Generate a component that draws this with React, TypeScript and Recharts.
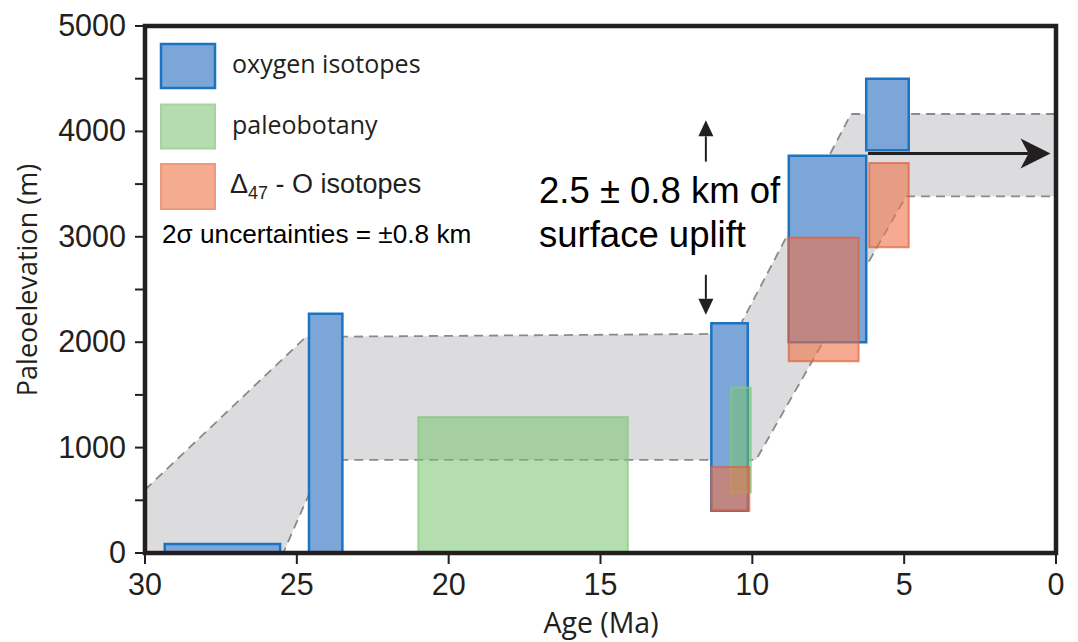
import React from 'react';
import {
  Area,
  ComposedChart,
  ReferenceArea,
  ReferenceLine,
  XAxis,
  YAxis,
} from 'recharts';

type Box = { from: number; to: number; low: number; high: number };

// elevation estimates, age range in Ma and elevation range in m
const oxygenIsotopes: Box[] = [
  { from: 29.35, to: 25.55, low: 0, high: 85 },
  { from: 24.6, to: 23.5, low: 0, high: 2270 },
  { from: 11.35, to: 10.15, low: 400, high: 2180 },
  { from: 8.8, to: 6.25, low: 2000, high: 3770 },
  { from: 6.25, to: 4.85, low: 3820, high: 4500 },
];

const paleobotany: Box[] = [
  { from: 21.0, to: 14.1, low: 0, high: 1290 },
  { from: 10.7, to: 10.05, low: 575, high: 1570 },
];

const clumpedIsotopes: Box[] = [
  { from: 11.35, to: 10.1, low: 400, high: 815 },
  { from: 8.8, to: 6.5, low: 1820, high: 2990 },
  { from: 6.15, to: 4.85, low: 2900, high: 3700 },
];

// envelope of the elevation history
const bandUpper = [
  { age: 30, elev: 600 },
  { age: 24.7, elev: 2050 },
  { age: 10.55, elev: 2080 },
  { age: 6.75, elev: 4165 },
  { age: 0, elev: 4165 },
];

const bandLower = [
  { age: 30, elev: 0 },
  { age: 25.45, elev: 0 },
  { age: 24.1, elev: 883 },
  { age: 9.88, elev: 883 },
  { age: 4.94, elev: 3384 },
  { age: 0, elev: 3384 },
];

const ageTicks = [30, 25, 20, 15, 10, 5, 0];
const elevTicks = [0, 500, 1000, 1500, 2000, 2500, 3000, 3500, 4000, 4500, 5000];
const elevLabels = [0, 1000, 2000, 3000, 4000, 5000];

const plateauArrow = [
  { x: 6.19, y: 3790 },
  { x: 0.18, y: 3790 },
];
const upArrow = [
  { x: 11.53, y: 3713 },
  { x: 11.53, y: 4105 },
];
const downArrow = [
  { x: 11.53, y: 2640 },
  { x: 11.53, y: 2260 },
];

const INK = '#231f20';
const ARIAL = '"Liberation Sans", Arial, sans-serif';
const MYRIAD = '"Open Sans", "Noto Sans", sans-serif';

const BLUE = { fill: '#7ca6d8', stroke: '#1b74c0' };
const GREEN = { fill: '#78c36e', stroke: '#86c97c' };
const RED = { fill: '#ee7148', stroke: '#e0603f' };

function YTick({ x, y, payload }: any) {
  if (!elevLabels.includes(payload.value)) return null;
  return (
    <text x={x} y={y} dy={10} textAnchor="end" fontSize={30.5} fontFamily={ARIAL} fill={INK}>
      {payload.value}
    </text>
  );
}

function XTick({ x, y, payload }: any) {
  return (
    <text x={x} y={y} dy={31} textAnchor="middle" fontSize={30.5} fontFamily={ARIAL} fill={INK}>
      {payload.value}
    </text>
  );
}

function makeArrow(head: number, half: number, notch: number, width: number) {
  return (props: any) => {
    const { x1, y1, x2, y2 } = props;
    const len = Math.hypot(x2 - x1, y2 - y1) || 1;
    const ux = (x2 - x1) / len;
    const uy = (y2 - y1) / len;
    const bx = x2 - ux * head;
    const by = y2 - uy * head;
    const nx = x2 - ux * notch;
    const ny = y2 - uy * notch;
    const pts = [
      [x2, y2],
      [bx - uy * half, by + ux * half],
      [nx, ny],
      [bx + uy * half, by - ux * half],
    ]
      .map((p) => p.join(','))
      .join(' ');
    return (
      <g>
        <line x1={x1} y1={y1} x2={nx} y2={ny} stroke={INK} strokeWidth={width} />
        <polygon points={pts} fill={INK} />
      </g>
    );
  };
}

const bigArrow = makeArrow(30, 15, 22, 3);
const smallArrow = makeArrow(16, 7.5, 16, 2);

function LegendAndNotes() {
  return (
    <svg
      width={1078}
      height={642}
      style={{ position: 'absolute', left: 0, top: 0, pointerEvents: 'none' }}
    >
      <rect x={161} y={44} width={54} height={44} fill="#7ca6d8" stroke="#1b74c0" strokeWidth={2.5} />
      <rect x={161} y={104.5} width={54} height={44} fill="#b5dcb0" stroke="#a6d4a0" strokeWidth={2} />
      <rect x={161} y={164} width={54} height={45} fill="#f5ab8f" stroke="#f09a7c" strokeWidth={2} />
      <text x={232} y={73} fontSize={25} fontFamily={MYRIAD} fill={INK}>
        oxygen isotopes
      </text>
      <text x={232} y={134} fontSize={25} fontFamily={MYRIAD} fill={INK}>
        paleobotany
      </text>
      <text x={230} y={193} fontSize={27} fontFamily={ARIAL} fill={INK}>
        Δ<tspan fontSize={18} dy={6}>47</tspan>
        <tspan dy={-6}> - O isotopes</tspan>
      </text>
      <text x={162} y={243} fontSize={26.2} fontFamily={ARIAL} fill="#000">
        2σ uncertainties = ±0.8 km
      </text>

      <text x={539} y={203} fontSize={36.5} fontFamily={ARIAL} fill="#000">
        2.5 ± 0.8 km of
      </text>
      <text x={539} y={247} fontSize={36.5} fontFamily={ARIAL} fill="#000">
        surface uplift
      </text>

      <text x={601} y={633} textAnchor="middle" fontSize={28.5} fontFamily={MYRIAD} fill={INK}>
        Age (Ma)
      </text>
      <text
        x={37}
        y={280}
        textAnchor="middle"
        fontSize={27}
        fontFamily={MYRIAD}
        fill={INK}
        transform="rotate(-90 37 280)"
      >
        Paleoelevation (m)
      </text>
    </svg>
  );
}

export default function App() {
  return (
    <div style={{ position: 'absolute', left: 0, top: 0, width: 1078, height: 642, background: '#fff' }}>
      <ComposedChart width={1078} height={642} margin={{ top: 26, right: 22, bottom: 49, left: 0 }}>
        <XAxis
          dataKey="age"
          type="number"
          domain={[0, 30]}
          reversed
          ticks={ageTicks}
          interval={0}
          height={40}
          axisLine={false}
          tickLine={{ stroke: INK, strokeWidth: 2 }}
          tickSize={11}
          tickMargin={0}
          tick={<XTick />}
        />
        <YAxis
          type="number"
          domain={[0, 5000]}
          ticks={elevTicks}
          interval={0}
          width={145}
          axisLine={false}
          tickLine={{ stroke: INK, strokeWidth: 2 }}
          tickSize={10}
          tickMargin={9}
          tick={<YTick />}
        />

        <Area
          data={bandUpper}
          dataKey="elev"
          type="linear"
          fill="#dcdcdf"
          fillOpacity={1}
          stroke="#8a8a8c"
          strokeWidth={1.8}
          strokeDasharray="9 6"
          dot={false}
          activeDot={false}
          isAnimationActive={false}
          zIndex={10}
        />
        <Area
          data={bandLower}
          dataKey="elev"
          type="linear"
          fill="#ffffff"
          fillOpacity={1}
          stroke="#8a8a8c"
          strokeWidth={1.8}
          strokeDasharray="9 6"
          dot={false}
          activeDot={false}
          isAnimationActive={false}
          zIndex={11}
        />

        {paleobotany.slice(0, 1).map((b, i) => (
          <ReferenceArea
            key={`pb${i}`}
            x1={b.from}
            x2={b.to}
            y1={b.low}
            y2={b.high}
            fill={GREEN.fill}
            fillOpacity={0.55}
            stroke={GREEN.stroke}
            strokeOpacity={0.7}
            strokeWidth={2}
            zIndex={20}
          />
        ))}
        {oxygenIsotopes.map((b, i) => (
          <ReferenceArea
            key={`ox${i}`}
            x1={b.from}
            x2={b.to}
            y1={b.low}
            y2={b.high}
            fill={BLUE.fill}
            fillOpacity={1}
            stroke={BLUE.stroke}
            strokeWidth={2.5}
            zIndex={21}
          />
        ))}
        {paleobotany.slice(1).map((b, i) => (
          <ReferenceArea
            key={`pb2${i}`}
            x1={b.from}
            x2={b.to}
            y1={b.low}
            y2={b.high}
            fill={GREEN.fill}
            fillOpacity={0.55}
            stroke={GREEN.stroke}
            strokeOpacity={0.7}
            strokeWidth={2}
            zIndex={22}
          />
        ))}
        {clumpedIsotopes.map((b, i) => (
          <ReferenceArea
            key={`d47${i}`}
            x1={b.from}
            x2={b.to}
            y1={b.low}
            y2={b.high}
            fill={RED.fill}
            fillOpacity={0.6}
            stroke={RED.stroke}
            strokeOpacity={0.7}
            strokeWidth={2}
            zIndex={23}
          />
        ))}

        {/* plot frame */}
        <ReferenceArea
          x1={30}
          x2={0}
          y1={0}
          y2={5000}
          fill="none"
          stroke={INK}
          strokeWidth={4.5}
          zIndex={30}
        />

        <ReferenceLine segment={plateauArrow} shape={bigArrow} zIndex={40} />
        <ReferenceLine segment={upArrow} shape={smallArrow} zIndex={40} />
        <ReferenceLine segment={downArrow} shape={smallArrow} zIndex={40} />
      </ComposedChart>
      <LegendAndNotes />
    </div>
  );
}
